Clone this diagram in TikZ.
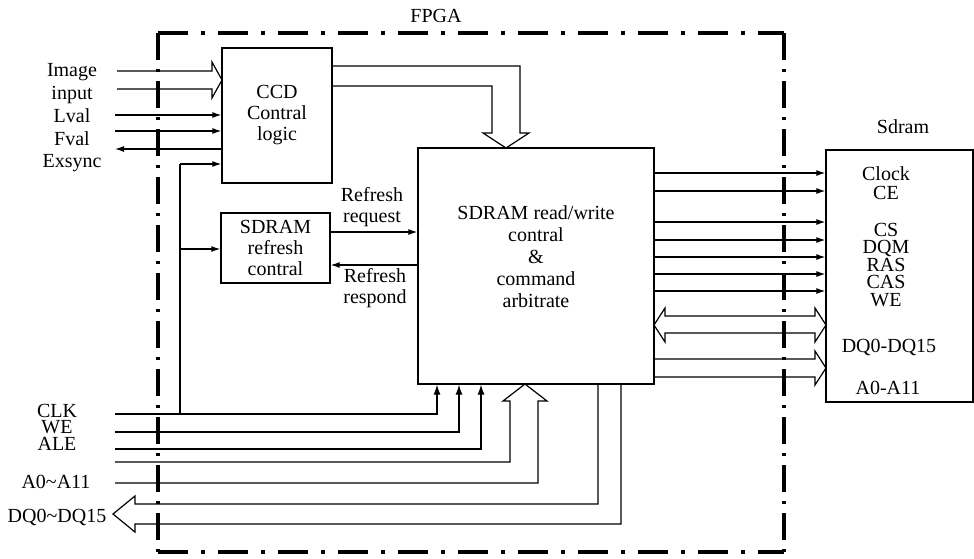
\documentclass[tikz,border=0pt]{standalone}
\usepackage{fontspec}
\setmainfont{Liberation Serif}
\usetikzlibrary{arrows.meta}
\begin{document}
\begin{tikzpicture}[x=1pt,y=-1pt,
  ln/.style={line width=1.2pt},
  arr/.style={ln,-{Latex[length=9pt,width=6pt]}},
  uparr/.style={ln,-{Latex[length=10pt,width=7pt]}},
  box/.style={draw,line width=1.3pt,rectangle,inner sep=0pt,align=center,font=\fontsize{20}{21}\selectfont},
  txt/.style={inner sep=0pt,align=center,font=\fontsize{20}{22}\selectfont},
  bus/.style={ln,line join=miter},
  hborder/.style={line width=3.2pt,dash pattern=on 30pt off 13pt on 4pt off 13pt},
  vborder/.style={line width=3.2pt,dash pattern=on 27pt off 9pt on 3pt off 9pt}]
\useasboundingbox (0,0) rectangle (974,558);

% FPGA border
\coordinate (ftl) at (158,33);
\coordinate (ftr) at (784,33);
\coordinate (fbr) at (784,552);
\coordinate (fbl) at (158,552);
\draw[hborder] (ftl) -- (ftr);
\draw[vborder] (ftr) -- (fbr);
\draw[hborder] (fbl) -- (fbr);
\draw[vborder] (ftl) -- (fbl);
\node[txt] (fpga) at (436,16) {FPGA};

% boxes
\node[box,minimum width=110,minimum height=135] (ccd) at (277,115.5) {CCD\\Contral\\logic};
\node[box,minimum width=109,minimum height=70] (refr) at (275.5,248) {SDRAM\\refresh\\contral};
\node[box,minimum width=236,minimum height=236] (main) at (536,266) {};
\node[txt] (maintxt) at (536,257) {SDRAM read/write\\contral\\\&\\command\\arbitrate};
\node[box,minimum width=147,minimum height=252] (sdram) at (899.5,276) {};
\node[txt] (sdramlbl) at (903,127) {Sdram};

% left labels
\node[txt,font=\fontsize{20}{22.7}\selectfont] (leftlbl) at (72,118) {Image\\input\\Lval\\Fval\\Exsync};
\node[txt,font=\fontsize{20}{16.5}\selectfont] (ctllbl) at (57,427) {CLK\\WE\\ALE};
\node[txt] (addrlbl) at (56,482) {A0\textasciitilde A11};
\node[txt] (dqlbl) at (57,517) {DQ0\textasciitilde DQ15};

% Image input bus
\coordinate (imgA) at (117,71);
\coordinate (imgB) at (117,89);
\draw[bus] (imgA) -- (212,71) -- (212,62) -- (222,80) -- (212,98) -- (212,89) -- (imgB);

% CCD signals
\coordinate (lval) at (115,115);
\coordinate (fval) at (115,131);
\coordinate (exs) at (115,149);
\draw[arr] (lval) -- (lval -| ccd.west);
\draw[arr] (fval) -- (fval -| ccd.west);
\draw[arr] (exs -| ccd.west) -- (exs);

% vertical clock feed
\coordinate (vtop) at (180,164);
\coordinate (vref) at (180,249);
\coordinate (vbot) at (180,414);
\draw[arr] (vtop) -- (vtop -| ccd.west);
\draw[ln] (vtop) -- (vbot);
\draw[arr] (vref) -- (vref -| refr.west);

% CCD -> main bus
\draw[bus] (ccd.east |- 0,66) -- (520,66) -- (520,133) -- (529,133) -- (506,148) -- (483,133) -- (492,133) -- (492,86) -- (ccd.east |- 0,86);

% refresh request / respond
\coordinate (rq) at (380,232);
\coordinate (rs) at (380,265);
\draw[arr] (refr.east |- rq) -- (main.west |- rq);
\draw[arr] (main.west |- rs) -- (refr.east |- rs);
\node[txt,font=\fontsize{20}{21}\selectfont] (rqlbl) at (372,207) {Refresh\\request};
\node[txt,font=\fontsize{20}{21}\selectfont] (rslbl) at (375,288) {Refresh\\respond};

% bottom control lines
\coordinate (clk) at (115,414);
\coordinate (clkx) at (437,414);
\coordinate (we) at (115,432);
\coordinate (wex) at (459,432);
\coordinate (ale) at (115,449);
\coordinate (alex) at (481,449);
\draw[uparr] (clk) -- (clkx) -- (clkx |- main.south);
\draw[uparr] (we) -- (wex) -- (wex |- main.south);
\draw[uparr] (ale) -- (alex) -- (alex |- main.south);

% address bus in
\coordinate (adA) at (115,462);
\coordinate (adB) at (115,483);
\draw[bus] (adA) -- (510,462) -- (510,401) -- (503,401) -- (525,384) -- (547,401) -- (538,401) -- (538,483) -- (adB);

% data bus out
\coordinate (dqA) at (598,504);
\coordinate (dqB) at (621,524);
\draw[bus] (dqA |- main.south) -- (dqA) -- (135,504) -- (135,496) -- (113,514) -- (135,532) -- (135,524) -- (dqB) -- (dqB |- main.south);

% outputs to Sdram
\foreach \yy/\nm in {173/a,191/b,222/c,240/d,257/e,274/f,291/g}{
  \coordinate (o\nm) at (700,\yy);
  \draw[arr] (main.east |- o\nm) -- (sdram.west |- o\nm);
}
\draw[bus] (665,316) -- (815,316) -- (815,308) -- (826,325) -- (815,342) -- (815,333) -- (665,333) -- (665,342) -- (654,325) -- (665,308) -- cycle;
\draw[bus] (654,359) -- (815,359) -- (815,351) -- (826,368) -- (815,385) -- (815,377) -- (654,377);

% Sdram labels
\node[txt,font=\fontsize{20}{19}\selectfont] (sdl1) at (886,183.5) {Clock\\CE};
\node[txt,font=\fontsize{20}{17.5}\selectfont] (sdl2) at (886,265) {CS\\DQM\\RAS\\CAS\\WE};
\node[txt] (sdl3) at (889,347) {DQ0-DQ15};
\node[txt] (sdl4) at (888,388) {A0-A11};
\end{tikzpicture}
\end{document}
